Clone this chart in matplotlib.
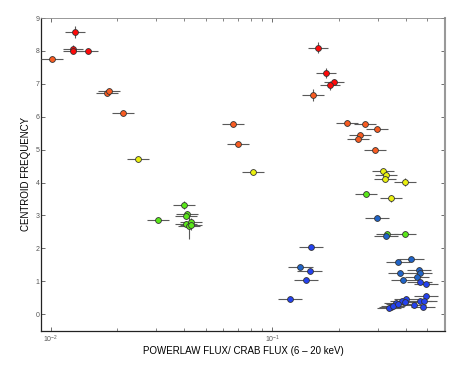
import numpy as np
import matplotlib
matplotlib.use('Agg')
import matplotlib.pyplot as plt
from matplotlib.ticker import LogLocator, NullFormatter, FixedLocator

# centroid frequency vs powerlaw flux, grouped by colour
red_x = [0.0129, 0.0126, 0.0126, 0.0147, 0.160, 0.174, 0.190, 0.181]
red_y = [8.58, 8.07, 7.99, 8.00, 8.10, 7.33, 7.06, 6.95]
red_yerr = [0.18, 0.10, 0.05, 0.05, 0.17, 0.15, 0.10, 0.15]

orange_x = [0.0101, 0.0180, 0.0183, 0.0212, 0.0665, 0.0702, 0.152, 0.2166,
            0.2618, 0.2968, 0.2488, 0.2428, 0.2897]
orange_y = [7.75, 6.71, 6.77, 6.10, 5.79, 5.17, 6.65, 5.80, 5.79, 5.64,
            5.44, 5.33, 4.98]
orange_yerr = [0.03, 0.05, 0.03, 0.03, 0.03, 0.03, 0.18, 0.03, 0.05, 0.03,
               0.08, 0.05, 0.03]

yellow_x = [0.0247, 0.082, 0.316, 0.325, 0.3225, 0.3976, 0.3426]
yellow_y = [4.73, 4.31, 4.34, 4.22, 4.12, 4.01, 3.52]
yellow_yerr = [0.03, 0.03, 0.08, 0.05, 0.05, 0.12, 0.1]

green_x = [0.0304, 0.0400, 0.0411, 0.0407, 0.0407, 0.0430, 0.0422, 0.0428,
           0.264, 0.330, 0.396]
green_y = [2.85, 3.33, 3.04, 2.98, 2.74, 2.81, 2.69, 2.72, 3.65, 2.44, 2.45]
green_yerr = [0.03, 0.12, 0.1, 0.08, 0.1, 0.1, 0.4, 0.15, 0.03, 0.05, 0.03]

steel_x = [0.2968, 0.325, 0.368, 0.4236, 0.378, 0.459, 0.464, 0.4496, 0.39,
           0.1338]
steel_y = [2.91, 2.38, 1.58, 1.68, 1.24, 1.33, 1.25, 1.14, 1.05, 1.43]

blue_x = [0.1495, 0.1471, 0.142, 0.1202, 0.461, 0.4918, 0.494, 0.40, 0.462,
          0.485, 0.383, 0.36, 0.434, 0.479, 0.344, 0.335, 0.396, 0.35, 0.37]
blue_y = [2.03, 1.30, 1.04, 0.47, 0.98, 0.91, 0.55, 0.47, 0.41, 0.39, 0.40,
          0.35, 0.28, 0.21, 0.22, 0.18, 0.36, 0.26, 0.30]

groups = [
    (red_x, red_y, red_yerr, 0.045, '#ff0a0a'),
    (orange_x, orange_y, orange_yerr, 0.05, '#f85c22'),
    (yellow_x, yellow_y, yellow_yerr, 0.05, '#eaf010'),
    (green_x, green_y, green_yerr, 0.05, '#5ae81a'),
    (steel_x, steel_y, None, 0.055, '#2064c8'),
    (blue_x, blue_y, None, 0.055, '#2442f0'),
]

plt.rcParams['font.family'] = ['Liberation Sans', 'DejaVu Sans']

fig = plt.figure(figsize=(4.63, 3.68), dpi=100)
ax = fig.add_axes([0.0886, 0.1014, 0.8724, 0.8496])

for gx, gy, gyerr, dex, col in groups:
    gx = np.array(gx)
    xerr = [gx - gx * 10**(-dex), gx * 10**dex - gx]
    ax.errorbar(gx, gy, xerr=xerr, yerr=gyerr, fmt='o', ms=4.2,
                mfc=col, mec='#333333', mew=0.6, ecolor='#5a5a5a',
                elinewidth=0.8, capsize=0, zorder=3)

ax.set_xscale('log')
ax.set_xlim(0.00905, 0.6)
ax.set_ylim(-0.5, 9)

ax.xaxis.set_major_locator(LogLocator(base=10))
ax.xaxis.set_minor_locator(LogLocator(base=10, subs=np.arange(2, 10)))
ax.xaxis.set_minor_formatter(NullFormatter())
ax.yaxis.set_major_locator(FixedLocator(range(0, 10)))

ax.tick_params(which='both', direction='in', top=True, right=True,
               labelsize=5, labelcolor='#555555', color='#555555')
ax.tick_params(which='major', length=3, width=0.6)
ax.tick_params(which='minor', length=2, width=0.5)
ax.tick_params(axis='y', pad=1.2)
ax.tick_params(axis='x', pad=2)

for s in ['left', 'bottom']:
    ax.spines[s].set_color('#222222')
    ax.spines[s].set_linewidth(0.9)
ax.spines['top'].set_color('#888888')
ax.spines['top'].set_linewidth(0.6)
ax.spines['right'].set_color('#999999')
ax.spines['right'].set_linewidth(1.5)

ax.set_xlabel('POWERLAW FLUX/ CRAB FLUX (6 \u2013 20 keV)', fontsize=7, labelpad=1)
ax.set_ylabel('CENTROID FREQUENCY', fontsize=7, labelpad=3)

fig.savefig('out.png', dpi=100)
